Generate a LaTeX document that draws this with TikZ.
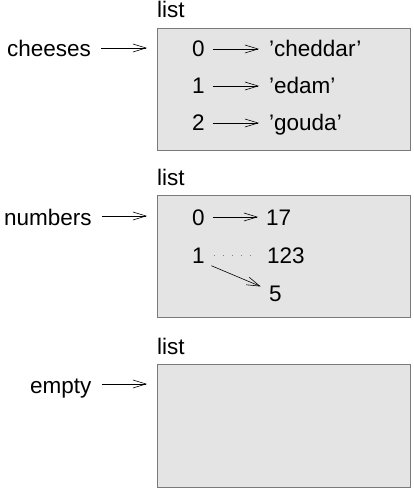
\documentclass[tikz,border=0pt]{standalone}
\usepackage{fontspec}
\setmainfont{Liberation Sans}
\usepackage{tikz}
\usetikzlibrary{arrows.meta,positioning,calc}
\definecolor{boxfill}{HTML}{E4E4E4}
\definecolor{boxline}{HTML}{7A7A7A}
\begin{document}
\begin{tikzpicture}[
  x=1pt, y=-1pt,
  font=\fontsize{22.5}{26}\selectfont,
  txt/.style={inner sep=0pt, anchor=base west},
  listbox/.style={draw=boxline, fill=boxfill, line width=0.8pt, anchor=north west,
    minimum width=253pt, minimum height=122pt, inner sep=0pt},
  arrow/.style={-{Straight Barb[length=13pt,width=8pt]}, line width=0.6pt},
  dots/.style={gray, line width=1pt, dash pattern=on 1pt off 8pt}
]
\useasboundingbox (0,0) rectangle (414,489);

% CHEESES
\node[listbox] (cheeselist) at (157,28) {};
\node[txt] (cheeselbl) at ([yshift=10pt]cheeselist.north west) {list};
\node[txt] (cheeses) at (7,57) {cheeses};
\node[txt] (c0) at (192,57) {0};
\node[txt] (c1) at (192,94) {1};
\node[txt] (c2) at (192,131) {2};
\node[txt] (cv0) at (269,57) {'cheddar'};
\node[txt] (cv1) at (269,94) {'edam'};
\node[txt] (cv2) at (269,131) {'gouda'};
\draw[arrow, shorten <=10pt, shorten >=10pt] ([yshift=9pt]cheeses.base east) -- ([yshift=9pt]cheeses.base -| cheeselist.west);
\foreach \i in {0,1,2}
  \draw[arrow, shorten <=8pt, shorten >=10pt] ([yshift=8pt]c\i.base east) -- ([yshift=8pt]cv\i.base west);

% NUMBERS
\node[listbox] (numlist) at (157,195) {};
\node[txt] (numlbl) at ([yshift=10pt]numlist.north west) {list};
\node[txt] (numbers) at (4,225) {numbers};
\node[txt] (n0) at (192,225) {0};
\node[txt] (n1) at (192,263) {1};
\node[txt] (v17) at (266,225) {17};
\node[txt] (v123) at (267,263) {123};
\node[txt] (v5) at (269,301) {5};
\draw[arrow, shorten <=10pt, shorten >=10pt] ([yshift=9pt]numbers.base east) -- ([yshift=9pt]numbers.base -| numlist.west);
\draw[arrow, shorten <=8pt, shorten >=8pt] ([yshift=8pt]n0.base east) -- ([yshift=8pt]v17.base west);
\draw[dots, shorten <=9pt, shorten >=9pt] ([yshift=8pt]n1.base east) -- ([yshift=8pt]v123.base west);
\draw[arrow, shorten <=7pt, shorten >=9pt] (n1.base east) -- ([yshift=11pt]v5.base west);

% EMPTY
\node[listbox, minimum height=123pt] (emptylist) at (157,364) {};
\node[txt] (emptylbl) at ([yshift=10pt]emptylist.north west) {list};
\node[txt] (empty) at (30,393) {empty};
\draw[arrow, shorten <=10pt, shorten >=10pt] ([yshift=9pt]empty.base east) -- ([yshift=9pt]empty.base -| emptylist.west);

\end{tikzpicture}
\end{document}
